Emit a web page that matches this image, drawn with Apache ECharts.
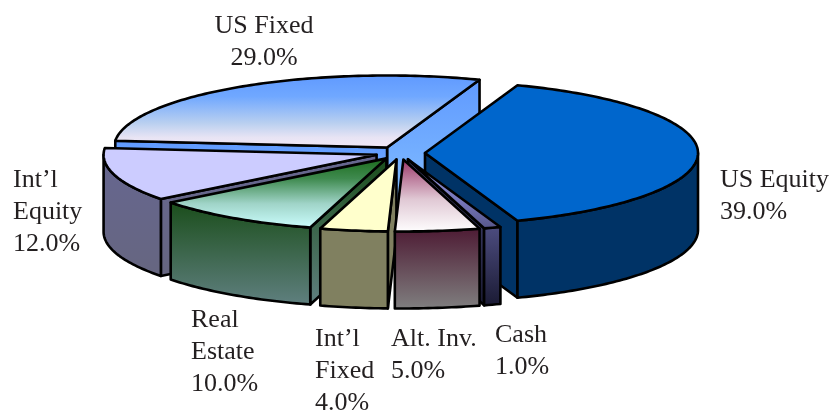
<!DOCTYPE html>
<html>
<head>
<meta charset="utf-8">
<style>
  html, body { margin: 0; padding: 0; background: #fff; }
  #chart { width: 835px; height: 411px; }
</style>
<script src="https://cdn.jsdelivr.net/npm/echarts@6/dist/echarts.min.js"></script>
</head>
<body>
<div id="chart"></div>
<script>
  var categories = ['US Equity', 'Cash', 'Alt. Inv.', 'Int\u2019l\nFixed', 'Real\nEstate', 'Int\u2019l\nEquity', 'US Fixed'];
  var shares = [39.0, 1.0, 5.0, 4.0, 10.0, 12.0, 29.0];

  // gradient stops, top to bottom of each face
  var topColors = [
    [[0, '#0066cc'], [1, '#0066cc']],
    [[0, '#9999dd'], [0.6, '#7777bb'], [1, '#555588']],
    [[0, '#993366'], [0.55, '#e0c8d4'], [1, '#ffffff']],
    [[0, '#ffffcc'], [1, '#ffffcc']],
    [[0, '#1a6b1a'], [0.3, '#3f8a4f'], [0.65, '#a0d4c8'], [1, '#ccffff']],
    [[0, '#ccccff'], [1, '#ccccff']],
    [[0, '#5f99ff'], [0.3, '#70a8ff'], [0.65, '#b8cff0'], [0.85, '#e8e4f4'], [1, '#f2e8f8']]
  ];
  var wallColors = [
    [[0, '#003366'], [1, '#003366']],
    [[0, '#4d4d80'], [1, '#1a1a33']],
    [[0, '#4d1a33'], [1, '#808080']],
    [[0, '#808060'], [1, '#808060']],
    [[0, '#1a4d1a'], [1, '#608080']],
    [[0, '#666690'], [1, '#666680']],
    [[0, '#5f99ff'], [1, '#88c4ff']]
  ];

  // label anchors
  var labelPos = [[720, 164], [495, 319], [391, 323], [315, 323], [191, 304], [13, 164], [264, 10]];
  var labelAlign = ['left', 'left', 'left', 'left', 'left', 'left', 'center'];

  var cx = 400.3, cy = 153, rx = 273, ry = 72, depth = 77, explode = 24.7;
  var startDeg = 70.2;
  var rad = Math.PI / 180;

  // slices as [index, start angle, end angle], going clockwise
  var rows = [];
  var total = shares.reduce(function (a, b) { return a + b; }, 0);
  var cur = startDeg;
  shares.forEach(function (v, i) {
    var sweep = v / total * 360;
    rows.push([i, cur, cur - sweep]);
    cur -= sweep;
  });
  // back slices get painted first
  rows.sort(function (a, b) {
    return Math.sin((b[1] + b[2]) / 2 * rad) - Math.sin((a[1] + a[2]) / 2 * rad);
  });

  function fill(stops) {
    return new echarts.graphic.LinearGradient(0, 0, 0, 1, stops.map(function (s) {
      return { offset: s[0], color: s[1] };
    }));
  }

  function renderItem(params, api) {
    var i = api.value(0), a0 = api.value(1), a1 = api.value(2);
    var mid = (a0 + a1) / 2 * rad;
    var ax = cx + explode * Math.cos(mid);
    var ay = cy - explode * ry / rx * Math.sin(mid);
    function pt(deg, dz) {
      return [ax + rx * Math.cos(deg * rad), ay - ry * Math.sin(deg * rad) + dz];
    }
    function arc(from, to, dz) {
      var out = [], n = Math.max(2, Math.ceil(Math.abs(to - from)));
      for (var k = 0; k <= n; k++) out.push(pt(from + (to - from) * k / n, dz));
      return out;
    }
    function face(points, stops) {
      return {
        type: 'polygon',
        shape: { points: points },
        style: { fill: fill(stops), stroke: '#000', lineWidth: 2.6, lineJoin: 'round' }
      };
    }
    function cut(deg) {
      var p = pt(deg, 0);
      return face([[ax, ay], p, [p[0], p[1] + depth], [ax, ay + depth]], wallColors[i]);
    }
    var kids = [];
    if (Math.cos(a1 * rad) > 0) kids.push(cut(a1));
    if (Math.cos(a0 * rad) < 0) kids.push(cut(a0));
    var hi = Math.min(a0, 0), lo = Math.max(a1, -180);
    if (hi > lo) {
      kids.push(face(arc(hi, lo, 0).concat(arc(lo, hi, depth)), wallColors[i]));
    }
    kids.push(face([[ax, ay]].concat(arc(a0, a1, 0)), topColors[i]));
    return { type: 'group', children: kids };
  }

  function labelText(i) {
    return categories[i] + '\n' + shares[i].toFixed(1) + '%';
  }

  var chart = echarts.init(document.getElementById('chart'), null, { renderer: 'canvas' });
  chart.setOption({
    animation: false,
    backgroundColor: '#fff',
    series: [{
      type: 'custom',
      coordinateSystem: 'none',
      renderItem: renderItem,
      encode: { x: -1, y: -1 },
      data: rows,
      silent: true
    }],
    graphic: categories.map(function (c, i) {
      return {
        type: 'text',
        x: labelPos[i][0],
        y: labelPos[i][1],
        silent: true,
        style: {
          text: labelText(i),
          fill: '#231f20',
          font: '26px "Liberation Serif", serif',
          align: labelAlign[i],
          verticalAlign: 'top',
          lineHeight: 32
        }
      };
    })
  });
</script>
</body>
</html>
